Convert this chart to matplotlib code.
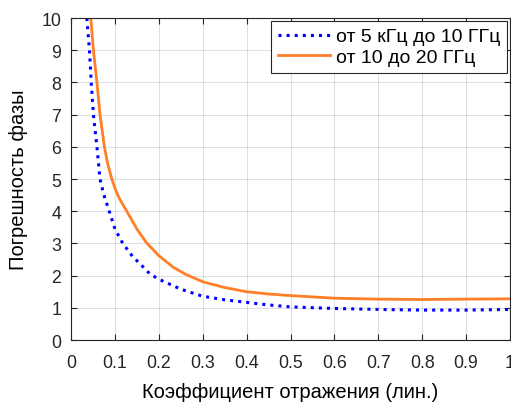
import matplotlib
matplotlib.use('Agg')
import matplotlib.pyplot as plt

plt.rcParams['font.family'] = ['Liberation Sans', 'DejaVu Sans']

# readings from the reference (reflection coefficient -> phase error)
x_low = [0.036, 0.042, 0.046, 0.051, 0.059, 0.066, 0.075, 0.087, 0.100, 0.118, 0.140,
         0.165, 0.18, 0.20, 0.25, 0.30, 0.35, 0.40, 0.45, 0.50, 0.60, 0.70, 0.80, 0.90, 1.0]
y_low = [10.0, 9.0, 8.0, 7.0, 6.0, 5.0, 4.5, 4.0, 3.45, 3.0, 2.6,
         2.26, 2.05, 1.89, 1.58, 1.36, 1.25, 1.17, 1.09, 1.03, 0.98, 0.95, 0.93, 0.93, 0.95]

x_high = [0.045, 0.051, 0.059, 0.066, 0.076, 0.084, 0.093, 0.101, 0.110, 0.127, 0.150, 0.172,
          0.20, 0.233, 0.26, 0.30, 0.35, 0.40, 0.45, 0.50, 0.60, 0.70, 0.80, 0.90, 1.0]
y_high = [10.0, 9.0, 8.0, 7.0, 6.0, 5.45, 5.0, 4.68, 4.4, 4.0, 3.45, 3.02,
          2.62, 2.26, 2.05, 1.81, 1.63, 1.50, 1.43, 1.38, 1.30, 1.27, 1.26, 1.27, 1.28]

label_low = 'от 5 кГц до 10 ГГц'
label_high = 'от 10 до 20 ГГц'

fig = plt.figure(figsize=(5.11, 4.06), dpi=100)
ax = fig.add_axes([0.139, 0.160, 0.859, 0.793])

ax.plot(x_low, y_low, color='#0000ff', linestyle=':', linewidth=2.2, label=label_low)
ax.plot(x_high, y_high, color='#ff7f27', linestyle='-', linewidth=2.0, label=label_high)

ax.set_xlim(0, 1)
ax.set_ylim(0, 10)
ax.set_xticks([i / 10 for i in range(11)])
ax.set_xticklabels(['0', '0.1', '0.2', '0.3', '0.4', '0.5', '0.6', '0.7', '0.8', '0.9', '1'])
ax.set_yticks(range(11))

ax.grid(True, color='#000000', alpha=0.12, linewidth=0.8)
ax.tick_params(direction='in', top=True, right=True, length=4, colors='#262626',
               labelsize=12.8)
ax.tick_params(axis='x', pad=10)
ax.tick_params(axis='y', pad=7)
for s in ax.spines.values():
    s.set_color('#262626')
    s.set_linewidth(0.8)

ax.set_xlabel('Коэффициент отражения (лин.)', fontsize=14.5, labelpad=8)
ax.set_ylabel('Погрешность фазы', fontsize=14.5, labelpad=10)

leg = ax.legend(loc='upper right', fontsize=14, frameon=True, fancybox=False,
                borderaxespad=0.15, handlelength=2.7, handletextpad=0.3,
                borderpad=0.35, labelspacing=0.15)
leg.get_frame().set_edgecolor('#262626')
leg.get_frame().set_linewidth(0.8)
leg.get_frame().set_alpha(1)

fig.savefig('out.png', dpi=100)
